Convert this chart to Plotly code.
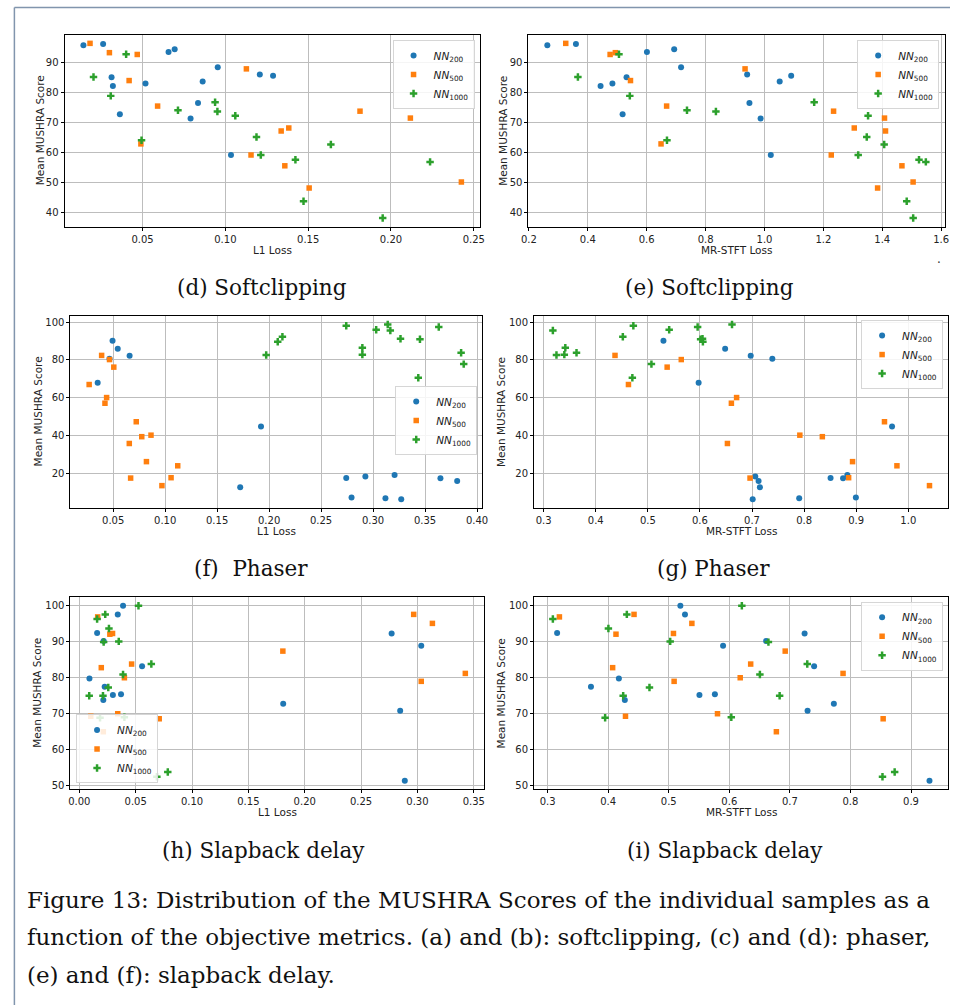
import plotly.graph_objects as go

# ---- Softclipping: mean MUSHRA score per sample and its objective losses ----
soft_y_200 = [95.8, 96.2, 85.1, 82.2, 72.8, 83.0, 93.5, 94.4, 71.4, 76.5, 83.7, 88.4, 59.2, 86.0, 85.6]
soft_l1_200 = [0.0143, 0.0262, 0.0313, 0.0321, 0.0363, 0.0518, 0.0657, 0.0694, 0.0790, 0.0835, 0.0863, 0.0954, 0.1034, 0.1208, 0.1288]
soft_stft_200 = [0.2625, 0.3596, 0.5315, 0.4433, 0.5181, 0.4835, 0.6007, 0.6933, 0.9868, 0.9489, 1.0516, 0.7167, 1.0214, 0.9411, 1.0906]

soft_y_500 = [96.4, 93.3, 84.0, 92.7, 62.9, 75.5, 87.9, 59.2, 67.2, 55.6, 68.2, 48.2, 73.8, 71.5, 50.2]
soft_l1_500 = [0.0183, 0.0300, 0.0419, 0.0468, 0.0490, 0.0591, 0.1127, 0.1155, 0.1337, 0.1359, 0.1383, 0.1506, 0.1813, 0.2117, 0.2425]
soft_stft_500 = [0.325, 0.4935, 0.5449, 0.4757, 0.6487, 0.6676, 0.934, 1.2268, 1.411, 1.4668, 1.3049, 1.3842, 1.2346, 1.4076, 1.5047]

soft_y_1000 = [85.2, 78.9, 92.8, 64.1, 74.1, 76.8, 73.7, 72.3, 65.2, 59.2, 57.6, 43.8, 62.7, 38.2, 56.9]
soft_l1_1000 = [0.0204, 0.0308, 0.0401, 0.0494, 0.0714, 0.0938, 0.0952, 0.1060, 0.1188, 0.1214, 0.1423, 0.1472, 0.1637, 0.1950, 0.2236]
soft_stft_1000 = [0.3663, 0.5426, 0.5058, 0.6688, 0.7368, 1.1688, 0.835, 1.3518, 1.3473, 1.3183, 1.5248, 1.483, 1.4065, 1.505, 1.548]

# ---- Phaser ----
ph_y_200 = [68.0, 80.6, 90.2, 85.9, 82.2, 12.6, 44.8, 17.5, 7.2, 18.4, 6.8, 19.1, 6.3, 17.4, 16.0]
ph_l1_200 = [0.0351, 0.0465, 0.0494, 0.0544, 0.0658, 0.1722, 0.1922, 0.2742, 0.2793, 0.2926, 0.3119, 0.3207, 0.3271, 0.3648, 0.3809]
ph_stft_200 = [0.5975, 0.739, 0.530, 0.6484, 0.6975, 0.7151, 0.9688, 0.8508, 0.8994, 0.7063, 0.7906, 0.883, 0.7013, 0.8748, 0.7126]

ph_y_500 = [67.0, 82.4, 57.1, 60.1, 80.2, 76.2, 35.8, 17.5, 47.3, 39.4, 26.2, 40.2, 13.5, 17.7, 24.0]
ph_l1_500 = [0.0269, 0.0389, 0.0421, 0.0437, 0.0465, 0.0506, 0.0655, 0.0668, 0.0722, 0.0775, 0.0820, 0.0864, 0.0969, 0.1057, 0.1121]
ph_stft_500 = [0.4628, 0.437, 0.6604, 0.6704, 0.5642, 0.5371, 0.6528, 0.6962, 0.9543, 0.835, 0.893, 0.7918, 1.0407, 0.8855, 0.9782]

ph_y_1000 = [82.6, 89.6, 92.3, 98.1, 86.5, 82.8, 96.0, 98.8, 95.6, 91.2, 70.6, 90.9, 97.4, 83.8, 77.8]
ph_l1_1000 = [0.1972, 0.2083, 0.2128, 0.2742, 0.2897, 0.2897, 0.3030, 0.3141, 0.3166, 0.3264, 0.3435, 0.3451, 0.3632, 0.3847, 0.3872]
ph_stft_1000 = [0.3246, 0.6057, 0.452, 0.4722, 0.3416, 0.3397, 0.541, 0.6616, 0.3177, 0.605, 0.4703, 0.6013, 0.5956, 0.3631, 0.5069]

# ---- Slapback delay ----
sb_y_200 = [79.8, 92.4, 90.2, 77.5, 73.8, 75.2, 97.6, 75.4, 100.0, 83.2, 72.8, 92.3, 70.8, 51.4, 88.9]
sb_l1_200 = [0.0090, 0.0158, 0.0216, 0.0225, 0.0213, 0.0298, 0.0341, 0.0370, 0.0388, 0.0557, 0.1809, 0.2771, 0.2847, 0.2888, 0.3034]
sb_stft_200 = [0.4177, 0.3157, 0.6608, 0.3716, 0.4275, 0.5507, 0.5268, 0.5762, 0.5192, 0.74, 0.7726, 0.7243, 0.7292, 0.9305, 0.5897]

sb_y_500 = [69.3, 96.9, 82.8, 65.0, 92.1, 92.3, 70.0, 80.0, 83.8, 68.6, 87.4, 97.6, 79.0, 95.1, 81.2]
sb_l1_500 = [0.0102, 0.0163, 0.0195, 0.0213, 0.0271, 0.0295, 0.0341, 0.0400, 0.0464, 0.0709, 0.1806, 0.2967, 0.3034, 0.3133, 0.3425]
sb_stft_500 = [0.4286, 0.3195, 0.4074, 0.6777, 0.4129, 0.5078, 0.5805, 0.618, 0.6353, 0.854, 0.6923, 0.4427, 0.5089, 0.5382, 0.7878]

sb_y_1000 = [75.0, 96.3, 68.9, 75.0, 89.9, 97.6, 77.3, 93.7, 90.1, 80.9, 69.0, 100.0, 83.8, 52.5, 53.8]
sb_l1_1000 = [0.0088, 0.0158, 0.0184, 0.0210, 0.0216, 0.0230, 0.0257, 0.0263, 0.0350, 0.0388, 0.0400, 0.0525, 0.0639, 0.0688, 0.0785]
sb_stft_1000 = [0.4248, 0.3087, 0.395, 0.6831, 0.6646, 0.4308, 0.4682, 0.4004, 0.5024, 0.6505, 0.6033, 0.6207, 0.7287, 0.8529, 0.873]

series_names = ["<i>NN</i><sub>200</sub>", "<i>NN</i><sub>500</sub>", "<i>NN</i><sub>1000</sub>"]
subcaptions = ["(d) Softclipping", "(e) Softclipping", "(f)  Phaser", "(g) Phaser",
               "(h) Slapback delay", "(i) Slapback delay"]
caption_lines = [
    "Figure 13: Distribution of the MUSHRA Scores of the individual samples as a",
    "function of the objective metrics. (a) and (b): softclipping, (c) and (d): phaser,",
    "(e) and (f): slapback delay.",
]

W, H = 956, 1007
COLORS = ["#1f77b4", "#ff7f0e", "#2ca02c"]
SYMBOLS = ["circle", "square", "cross"]
SIZES = [6, 5.5, 6.2]
SANS = "DejaVu Sans"
SERIF = "DejaVu Serif"
TICK_FONT = dict(family=SANS, size=10, color="#222222")
TITLE_FONT = dict(family=SANS, size=10.5, color="#222222")

# one entry per panel: data, axis pixel box (left, top, right, bottom), tick settings, legend placement
panels = [
    dict(data=[(soft_l1_200, soft_y_200), (soft_l1_500, soft_y_500), (soft_l1_1000, soft_y_1000)],
         box=(58.3, 34.7, 479.8, 227.2), xdt=0.05, xfmt=".2f", ydt=10, xtitle="L1 Loss",
         ytitle_x=33, leg=(474, 40, "right", "top"), cap=(259, 288)),
    dict(data=[(soft_stft_200, soft_y_200), (soft_stft_500, soft_y_500), (soft_stft_1000, soft_y_1000)],
         box=(528.6, 34.7, 950.7, 227.2), xdt=0.2, xfmt=".1f", ydt=10, xtitle="MR-STFT Loss",
         ytitle_x=503, leg=(945, 40, "right", "top"), cap=(712, 288)),
    dict(data=[(ph_l1_200, ph_y_200), (ph_l1_500, ph_y_500), (ph_l1_1000, ph_y_1000)],
         box=(64.3, 316.3, 482.0, 509.0), xdt=0.05, xfmt=".2f", ydt=20, xtitle="L1 Loss",
         ytitle_x=31, leg=(476.7, 386.7, "right", "top"), cap=(247, 570)),
    dict(data=[(ph_stft_200, ph_y_200), (ph_stft_500, ph_y_500), (ph_stft_1000, ph_y_1000)],
         box=(534.3, 316.3, 954.3, 509.0), xdt=0.1, xfmt=".1f", ydt=20, xtitle="MR-STFT Loss",
         ytitle_x=501, leg=(949, 320.7, "right", "top"), cap=(716, 570)),
    dict(data=[(sb_l1_200, sb_y_200), (sb_l1_500, sb_y_500), (sb_l1_1000, sb_y_1000)],
         box=(64.3, 598.2, 483.7, 791.0), xdt=0.05, xfmt=".2f", ydt=10, xtitle="L1 Loss",
         ytitle_x=31, leg=(70, 785, "left", "bottom"), cap=(260, 852)),
    dict(data=[(sb_stft_200, sb_y_200), (sb_stft_500, sb_y_500), (sb_stft_1000, sb_y_1000)],
         box=(534.3, 598.2, 954.3, 791.0), xdt=0.1, xfmt=".1f", ydt=10, xtitle="MR-STFT Loss",
         ytitle_x=501, leg=(949, 603, "right", "top"), cap=(728, 852)),
]


def padded(values, frac=0.05):
    lo, hi = min(values), max(values)
    m = (hi - lo) * frac
    return [lo - m, hi + m]


fig = go.Figure()
layout = dict(width=W, height=H, margin=dict(l=0, r=0, t=0, b=0), autosize=False,
              paper_bgcolor="white", plot_bgcolor="white", showlegend=True)
annotations = []

for i, p in enumerate(panels, start=1):
    sfx = "" if i == 1 else str(i)
    leg_id = "legend" + sfx
    all_x = [v for xs, _ in p["data"] for v in xs]
    all_y = [v for _, ys in p["data"] for v in ys]
    for k, (xs, ys) in enumerate(p["data"]):
        fig.add_trace(go.Scatter(
            x=xs, y=ys, mode="markers", name=series_names[k],
            marker=dict(color=COLORS[k], symbol=SYMBOLS[k], size=SIZES[k], line=dict(width=0)),
            xaxis="x" + sfx, yaxis="y" + sfx, legend=leg_id, cliponaxis=False))

    l, t, r, b = p["box"]
    axis_common = dict(showline=True, mirror=True, linecolor="black", linewidth=1,
                       ticks="outside", ticklen=3, tickwidth=1, tickcolor="black",
                       showgrid=True, gridcolor="#bdbdbd", gridwidth=1.3, zeroline=False,
                       tickfont=TICK_FONT)
    layout["xaxis" + sfx] = dict(axis_common, domain=[l / W, r / W], range=padded(all_x),
                                 dtick=p["xdt"], tick0=0, tickformat=p["xfmt"],
                                 anchor="y" + sfx)
    layout["yaxis" + sfx] = dict(axis_common, domain=[1 - b / H, 1 - t / H], range=padded(all_y),
                                 dtick=p["ydt"], tick0=0, anchor="x" + sfx)

    lx, ly, xa, ya = p["leg"]
    layout[leg_id] = dict(x=lx / W, y=1 - ly / H, xanchor=xa, yanchor=ya, xref="paper", yref="paper",
                          bgcolor="rgba(255,255,255,0.85)", bordercolor="#d6d6d6", borderwidth=1,
                          font=dict(family=SANS, size=10.5, color="#222222"),
                          tracegroupgap=0)

    # axis titles
    annotations.append(dict(text=p["xtitle"], x=(l + r) / 2 / W, y=1 - (b + 23) / H,
                            xref="paper", yref="paper", showarrow=False,
                            xanchor="center", yanchor="middle", font=TITLE_FONT))
    annotations.append(dict(text="Mean MUSHRA Score", x=p["ytitle_x"] / W, y=1 - (t + b) / 2 / H,
                            xref="paper", yref="paper", showarrow=False, textangle=-90,
                            xanchor="center", yanchor="middle", font=TITLE_FONT))
    # sub-figure caption
    cx, cy = p["cap"]
    annotations.append(dict(text=subcaptions[i - 1], x=cx / W, y=1 - cy / H,
                            xref="paper", yref="paper", showarrow=False,
                            xanchor="center", yanchor="middle",
                            font=dict(family=SERIF, size=21.5, color="#111111")))

# figure caption
for j, line in enumerate(caption_lines):
    annotations.append(dict(text=line, x=18 / W, y=1 - (901.5 + 37.5 * j) / H,
                            xref="paper", yref="paper", showarrow=False,
                            xanchor="left", yanchor="middle",
                            font=dict(family=SERIF, size=23, color="#111111")))

# stray period below the second panel's axis
annotations.append(dict(text=".", x=949 / W, y=1 - 250 / H, xref="paper", yref="paper",
                        showarrow=False, font=dict(family=SERIF, size=12, color="#333333")))

layout["annotations"] = annotations
layout["shapes"] = [
    dict(type="line", xref="paper", yref="paper", x0=7.5 / W, x1=1, y0=1 - 7.5 / H, y1=1 - 7.5 / H,
         line=dict(color="#8195ad", width=1.5)),
    dict(type="line", xref="paper", yref="paper", x0=7.5 / W, x1=7.5 / W, y0=0, y1=1 - 7.5 / H,
         line=dict(color="#8195ad", width=1.5)),
]

fig.update_layout(**layout)
fig.write_html("out.html")
